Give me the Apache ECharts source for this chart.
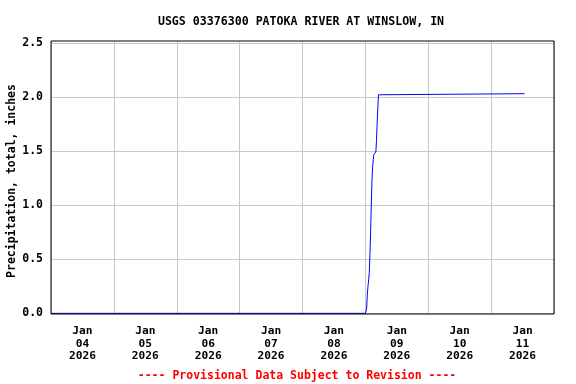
<!DOCTYPE html>
<html>
<head>
<meta charset="utf-8">
<script src="https://cdn.jsdelivr.net/npm/echarts@6/dist/echarts.min.js"></script>
<style>html,body{margin:0;padding:0;background:#fff}#c{width:576px;height:384px}</style>
</head>
<body>
<div id="c"></div>
<script>
const titleText = 'USGS 03376300 PATOKA RIVER AT WINSLOW, IN';
const footText = '---- Provisional Data Subject to Revision ----';
const yName = 'Precipitation, total, inches';
const dayLabels = ['Jan\n04\n2026','Jan\n05\n2026','Jan\n06\n2026','Jan\n07\n2026','Jan\n08\n2026','Jan\n09\n2026','Jan\n10\n2026','Jan\n11\n2026'];
const yTicks = [0, 0.5, 1.0, 1.5, 2.0, 2.5];
const times = ['2026-01-04 00:00','2026-01-09 00:00','2026-01-09 00:15','2026-01-09 00:30','2026-01-09 00:45','2026-01-09 01:00','2026-01-09 01:15','2026-01-09 01:30','2026-01-09 01:45','2026-01-09 02:00','2026-01-09 02:15','2026-01-09 02:30','2026-01-09 02:45','2026-01-09 03:00','2026-01-09 03:15','2026-01-09 03:30','2026-01-09 03:45','2026-01-09 04:00','2026-01-09 04:15','2026-01-09 04:30','2026-01-09 04:45','2026-01-09 05:00','2026-01-09 05:15','2026-01-11 12:45'];
const values = [0, 0, 0.02, 0.05, 0.18, 0.25, 0.31, 0.38, 0.55, 0.75, 1.0, 1.22, 1.35, 1.42, 1.47, 1.48, 1.48, 1.49, 1.60, 1.76, 1.90, 2.02, 2.03, 2.03];

function toMs(s){
  const [d,t] = s.split(' ');
  const [Y,M,D] = d.split('-').map(Number);
  const [h,m] = t.split(':').map(Number);
  return Date.UTC(Y, M-1, D, h, m);
}
const xMin = Date.UTC(2026,0,4);
const xMax = Date.UTC(2026,0,12);
const seriesData = times.map((t,i)=>[toMs(t), values[i]]);
const font = '"DejaVu Sans Mono", monospace';

const chart = echarts.init(document.getElementById('c'), null, {renderer:'canvas'});
chart.setOption({
  animation: false,
  backgroundColor: '#ffffff',
  title: [
    {text: titleText, left: 296, top: 11, textAlign: 'center',
     textStyle: {fontFamily: font, fontWeight: 'bold', fontSize: 11.6, color: '#000'}},
    {text: footText, left: 292, top: 365, textAlign: 'center',
     textStyle: {fontFamily: font, fontWeight: 'bold', fontSize: 11.5, color: '#ff0000'}}
  ],
  graphic: [{
    type: 'text', x: 12, y: 181, rotation: Math.PI / 2, silent: true,
    style: {text: yName, font: 'bold 11.5px "DejaVu Sans Mono", monospace', fill: '#000',
            align: 'center', verticalAlign: 'middle'}
  }],
  grid: {left: 51, right: 22, top: 41, bottom: 70, show: true, z: 10,
         containLabel: false, outerBoundsMode: 'none',
         backgroundColor: 'transparent', borderColor: '#000', borderWidth: 1},
  xAxis: [
    {type: 'value', min: xMin, max: xMax, show: false, splitLine: {show: false}},
    {type: 'category', data: dayLabels, boundaryGap: true, position: 'bottom',
     axisLine: {show: false}, axisTick: {show: false},
     splitLine: {show: true, interval: 0, lineStyle: {color: '#c8c8c8', width: 1}},
     axisLabel: {interval: 0, margin: 11, lineHeight: 12.5, fontFamily: font, fontWeight: 'bold', fontSize: 11.2, color: '#000'}}
  ],
  yAxis: {
    type: 'value', min: -0.006, max: 2.517,
    axisLine: {show: false}, axisTick: {show: false, customValues: yTicks},
    splitLine: {show: false},
    axisLabel: {customValues: yTicks, margin: 8, fontFamily: font, fontWeight: 'bold', fontSize: 11.5, color: '#000',
                formatter: v => Number(v).toFixed(1)}
  },
  series: [{
    type: 'line', xAxisIndex: 0, data: seriesData, showSymbol: false, z: 5,
    lineStyle: {color: '#0000ff', width: 1}, itemStyle: {color: '#0000ff'},
    markLine: {silent: true, symbol: 'none', label: {show: false}, z: 1,
      lineStyle: {color: '#c8c8c8', width: 1, type: 'solid'},
      data: yTicks.map(v => ({yAxis: v}))}
  }]
});
</script>
</body>
</html>
